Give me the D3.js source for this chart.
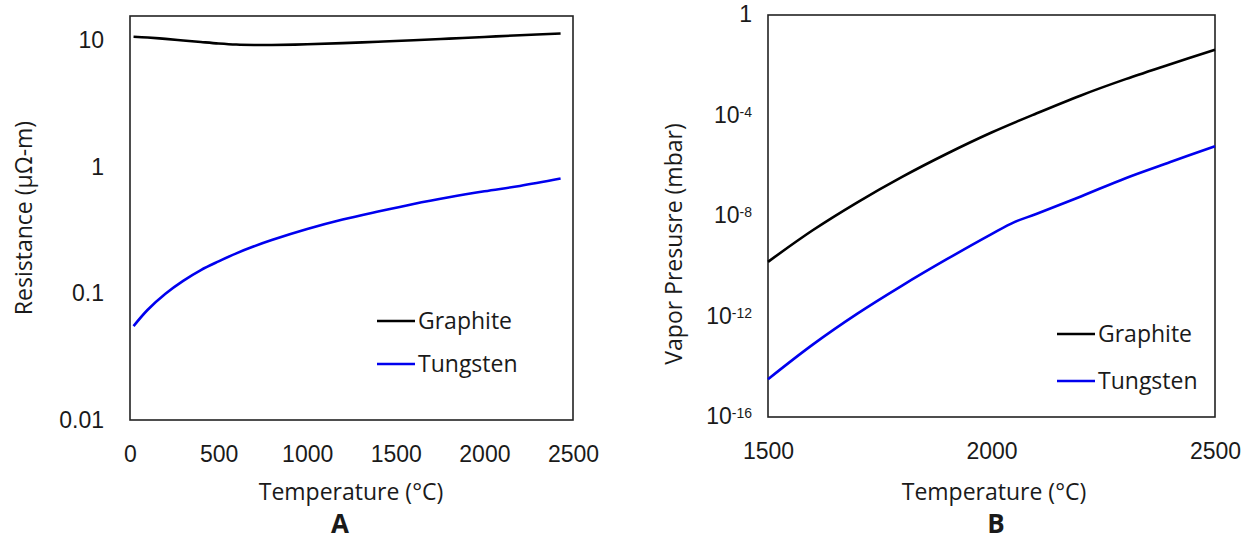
<!DOCTYPE html>
<html lang="en">

<head>
    <meta charset="UTF-8">
    <title>Resistance and vapor pressure</title>
    <style>
        body {
            margin: 0;
            background: #fff;
        }

        svg {
            display: block;
            font-family: "Open Sans", sans-serif;
        }

        .tick text {
            fill: #1a1a1a;
        }
    </style>
</head>

<body>
    <svg width="1251" height="543"></svg>

    <script src="https://d3js.org/d3.v7.min.js"></script>
    <script>
        // chart A: resistance vs temperature
        const tempA = [20, 100, 200, 300, 400, 500, 600, 700, 800, 1000, 1200, 1400, 1600, 1800, 2000, 2200, 2430];
        const graphiteA = [10.5, 10.35, 10.1, 9.82, 9.55, 9.3, 9.12, 9.05, 9.05, 9.15, 9.35, 9.6, 9.85, 10.15, 10.45, 10.8, 11.15];
        const tungstenA = [0.055, 0.074, 0.099, 0.125, 0.152, 0.178, 0.206, 0.234, 0.262, 0.32, 0.38, 0.44, 0.505, 0.57, 0.635, 0.70, 0.80];
        const ticksA_y = [0.01, 0.1, 1, 10];
        const ticksA_x = [0, 500, 1000, 1500, 2000, 2500];

        // chart B: vapor pressure vs temperature
        const tempB = [1500, 1600, 1700, 1800, 1900, 2000, 2100, 2200, 2300, 2400, 2500];
        const graphiteB = [1.5e-10, 2.7e-9, 3.5e-8, 3.6e-7, 3.0e-6, 2.1e-5, 1.2e-4, 6.3e-4, 2.8e-3, 1.1e-2, 4.1e-2];
        const tempB_w = [1500, 1600, 1700, 1800, 1900, 2000, 2050, 2100, 2200, 2300, 2400, 2500];
        const tungstenB = [3.2e-15, 7.6e-14, 1.3e-12, 1.7e-11, 1.9e-10, 1.9e-9, 5.6e-9, 1.2e-8, 6.0e-8, 3.2e-7, 1.4e-6, 6.0e-6];
        const ticksB_y = [1e-16, 1e-12, 1e-8, 1e-4, 1];
        const ticksB_x = [1500, 2000, 2500];

        const seriesNames = ["Graphite", "Tungsten"];
        const colors = ["#000000", "#0000ee"];

        const svg = d3.select("svg");

        function frame(x0, x1, y0, y1) {
            svg.append("rect")
                .attr("x", x0).attr("y", y0)
                .attr("width", x1 - x0).attr("height", y1 - y0)
                .attr("fill", "none")
                .attr("stroke", "#222")
                .attr("stroke-width", 1.6);
        }

        function drawLine(xs, ys, x, y, color) {
            const pts = xs.map((t, i) => [t, ys[i]]);
            svg.append("path")
                .datum(pts)
                .attr("fill", "none")
                .attr("stroke", color)
                .attr("stroke-width", 2.6)
                .attr("d", d3.line()
                    .x(d => x(d[0]))
                    .y(d => y(d[1]))
                    .curve(d3.curveCatmullRom.alpha(0.5)));
        }

        function legend(lx, ly, gap) {
            seriesNames.forEach((name, i) => {
                const yy = ly + i * gap;
                svg.append("line")
                    .attr("x1", lx).attr("x2", lx + 38)
                    .attr("y1", yy).attr("y2", yy)
                    .attr("stroke", colors[i])
                    .attr("stroke-width", 2.6);
                svg.append("text")
                    .attr("x", lx + 41).attr("y", yy)
                    .attr("dy", "0.35em")
                    .style("font-size", "23px")
                    .style("fill", "#1a1a1a")
                    .text(name);
            });
        }

        function label(txt, x, y, rotate, size, bold) {
            svg.append("text")
                .attr("transform", "translate(" + x + "," + y + ")" + (rotate ? " rotate(-90)" : ""))
                .attr("text-anchor", "middle")
                .attr("dy", "0.35em")
                .style("font-size", size + "px")
                .style("font-weight", bold ? "bold" : "normal")
                .style("fill", "#1a1a1a")
                .text(txt);
        }

        // ---- chart A ----
        const xA = d3.scaleLinear().domain([0, 2500]).range([130, 573]);
        const yA = d3.scaleLog().domain([0.01, 15.3]).range([420, 16]);

        svg.append("g")
            .attr("transform", "translate(130,0)")
            .call(d3.axisLeft(yA).tickValues(ticksA_y).tickSize(0).tickPadding(26)
                .tickFormat(d => String(d)))
            .call(g => g.select(".domain").remove())
            .selectAll("text").style("font-size", "23px").attr("dy", "0.34em");

        svg.append("g")
            .attr("transform", "translate(0,420)")
            .call(d3.axisBottom(xA).tickValues(ticksA_x).tickSize(0).tickPadding(26)
                .tickFormat(d3.format("d")))
            .call(g => g.select(".domain").remove())
            .selectAll("text").style("font-size", "23px");

        frame(130, 573, 16, 420);
        drawLine(tempA, graphiteA, xA, yA, colors[0]);
        drawLine(tempA, tungstenA, xA, yA, colors[1]);
        legend(377, 321, 43);

        label("Resistance (\u03bc\u03a9-m)", 24, 218, true, 23, false);
        label("Temperature (\u00b0C)", 351, 492, false, 23, false);
        label("A", 340, 524, false, 26, true);

        // ---- chart B ----
        const xB = d3.scaleLinear().domain([1500, 2500]).range([768, 1215]);
        const yB = d3.scaleLog().domain([1e-16, 1]).range([417, 15]);

        const axB = svg.append("g")
            .attr("transform", "translate(768,0)")
            .call(d3.axisLeft(yB).tickValues(ticksB_y).tickSize(0).tickPadding(16).tickFormat(""))
            .call(g => g.select(".domain").remove());
        axB.selectAll(".tick text").each(function (d) {
            const t = d3.select(this).style("font-size", "23px").attr("dy", "0.3em");
            const p = Math.round(Math.log10(d));
            if (p === 0) {
                t.text("1");
            } else {
                t.append("tspan").text("10");
                t.append("tspan").attr("dy", "-0.45em").style("font-size", "14px").text(p);
            }
        });

        svg.append("g")
            .attr("transform", "translate(0,417)")
            .call(d3.axisBottom(xB).tickValues(ticksB_x).tickSize(0).tickPadding(26)
                .tickFormat(d3.format("d")))
            .call(g => g.select(".domain").remove())
            .selectAll("text").style("font-size", "23px");

        frame(768, 1215, 15, 417);
        drawLine(tempB, graphiteB, xB, yB, colors[0]);
        drawLine(tempB_w, tungstenB, xB, yB, colors[1]);
        legend(1057, 334, 47);

        label("Vapor Presusre (mbar)", 674, 244, true, 23, false);
        label("Temperature (\u00b0C)", 994, 492, false, 23, false);
        label("B", 996, 524, false, 26, true);
    </script>
</body>

</html>
